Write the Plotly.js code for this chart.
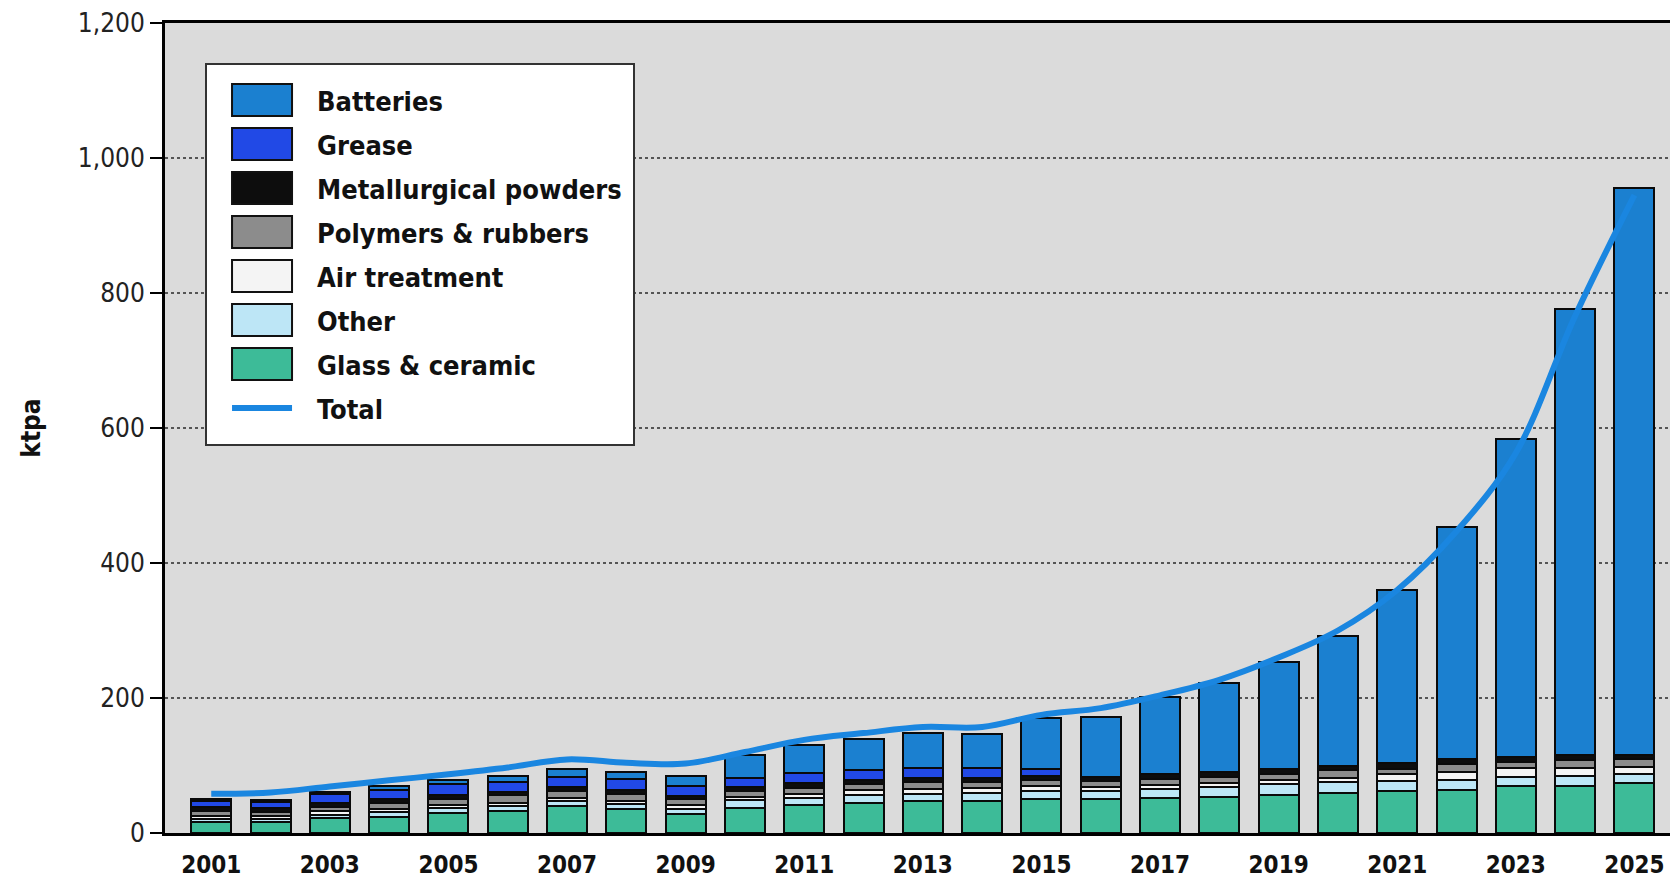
<!DOCTYPE html>
<html><head><meta charset="utf-8">
<script src="https://cdn.plot.ly/plotly-3.0.1.min.js"></script>
<style>html,body{margin:0;padding:0;background:#fff;} #chart{width:1670px;height:882px;}</style>
</head><body><div id="chart"></div>
<script>
const years = [2001,2002,2003,2004,2005,2006,2007,2008,2009,2010,2011,2012,2013,2014,2015,2016,2017,2018,2019,2020,2021,2022,2023,2024,2025];
const glass     = [16,17,22,24,30,33,40,36,28,37,41,44,47,48,50,50,52,54,57,59,62,64,69,70,74];
const other     = [5,4,5,7,7,7,7,7,8,12,11,13,11,11,12,12,13,14,15,17,15,15,14,15,13];
const air       = [4,4,5,5,5,5,5,5,6,5,6,6,7,7,7,6,6,6,7,6,10,12,13,11,11];
const polymers  = [8,6,7,8,9,11,10,10,8,8,8,9,10,9,9,9,9,9,9,12,8,11,9,12,11];
const metall    = [5,6,6,6,6,5,6,6,5,6,8,6,6,6,7,6,8,8,7,6,8,7,8,8,7];
const grease    = [9,9,13,14,15,15,15,16,14,14,15,16,15,15,10,0,0,0,0,0,0,0,0,0,0];
const batteries = [4,3,3,5,7,8,12,10,16,33,41,45,52,50,76,89,114,131,158,192,257,344,471,660,839];
const total     = [58,60,69,78,87,97,109,104,103,120,138,148,157,157,175,185,204,227,260,300,360,447,563,766,945];
const tickYears = [2001,2003,2005,2007,2009,2011,2013,2015,2017,2019,2021,2023,2025];
const tickLabels = ["2001","2003","2005","2007","2009","2011","2013","2015","2017","2019","2021","2023","2025"];
const yTicks = [0,200,400,600,800,1000,1200];

const FONT = '"Liberation Sans Narrow","DejaVu Sans Condensed","Arial Narrow",sans-serif';
const outline = {color:'#0a0a0a', width:2};
function barTrace(name, y, color){
  return {type:'bar', name:name, x:years, y:y, marker:{color:color, line:outline}, hoverinfo:'skip'};
}
const data = [
  {type:'scatter', mode:'lines', name:'Total', x:years, y:total, line:{color:'#1a86e0', width:6, shape:'spline', smoothing:1}, hoverinfo:'skip'},
  barTrace('Glass & ceramic', glass, '#3dbb98'),
  barTrace('Other', other, '#bde6f6'),
  barTrace('Air treatment', air, '#f4f4f4'),
  barTrace('Polymers & rubbers', polymers, '#8c8c8c'),
  barTrace('Metallurgical powders', metall, '#0d0d0d'),
  barTrace('Grease', grease, '#2149e6'),
  barTrace('Batteries', batteries, '#1b80d0')
];
const layout = {
  width:1670, height:882,
  margin:{l:165, r:0, t:23, b:49},
  paper_bgcolor:'#ffffff', plot_bgcolor:'#dbdbdb',
  barmode:'stack', bargap:0.325,
  showlegend:true,
  legend:{x:0.0266, y:0.9506, xanchor:'left', yanchor:'top', bgcolor:'#ffffff', bordercolor:'#333333', borderwidth:2,
    traceorder:'reversed', itemwidth:100, font:{family:FONT, size:27, color:'#111', weight:'bold'}},
  xaxis:{range:[2000.22, 2025.6], tickmode:'array', tickvals:tickYears, ticktext:tickLabels, ticks:'',
    showline:true, linecolor:'#000', linewidth:3, mirror:true, showgrid:false, zeroline:false,
    tickfont:{family:FONT, size:24, color:'#111', weight:'bold'}, ticklabelstandoff:8},
  yaxis:{range:[0,1200], tickmode:'array', tickvals:yTicks, tickformat:',d', ticks:'outside', ticklen:12, tickwidth:2, tickcolor:'#000',
    showline:true, linecolor:'#000', linewidth:3, showgrid:true, gridcolor:'#555', griddash:'dot', gridwidth:1.5, zeroline:false,
    tickfont:{family:FONT, size:26, color:'#222'},
    title:{text:'ktpa', font:{family:FONT, size:26, color:'#111', weight:'bold'}, standoff:30}}
};
Plotly.newPlot('chart', data, layout, {displayModeBar:false, staticPlot:true}).then(gd => {
  const leg = gd.querySelector('g.legend');
  if (!leg) return;
  const traces = Array.from(leg.querySelectorAll('g.traces'));
  const parse = t => { const m = /translate\(\s*([-\d.]+)[ ,]+([-\d.]+)/.exec(t.getAttribute('transform')||''); return m ? [parseFloat(m[1]), parseFloat(m[2])] : [0,0]; };
  if (traces.length > 1) {
    const p0 = parse(traces[0]), p1 = parse(traces[1]);
    const oldStep = p1[1] - p0[1], step = 44, shift = 11;
    traces.forEach((t, i) => { const p = parse(t); t.setAttribute('transform', 'translate(' + p[0] + ',' + (p0[1] + i*step + shift) + ')'); });
    const extra = (step - oldStep) * (traces.length - 1) + 23;
    const bg = leg.querySelector('rect.bg');
    if (bg) {
      bg.setAttribute('height', parseFloat(bg.getAttribute('height')) + extra);
      bg.setAttribute('width', parseFloat(bg.getAttribute('width')) + 6);
    }
    const sb = leg.querySelector('g.scrollbox');
    if (sb) sb.removeAttribute('clip-path');
  }
  leg.querySelectorAll('g.legendpoints path').forEach(p => {
    p.setAttribute('d', 'M30,16H-30V-16H30Z');
    p.style.strokeWidth = '2px';
    p.style.stroke = '#111';
  });
  leg.querySelectorAll('g.legendlines path').forEach(p => {
    p.setAttribute('d', 'M25,0h60');
    p.style.strokeWidth = '6px';
  });
});
</script></body></html>
